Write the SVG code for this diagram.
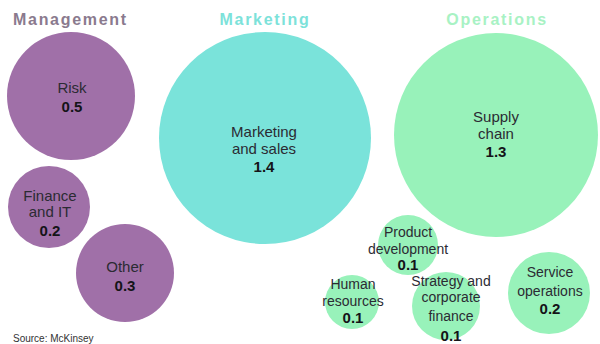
<svg xmlns="http://www.w3.org/2000/svg" width="600" height="344" viewBox="0 0 600 344">
<style>
.bg{fill:#ffffff}
.mg{fill:#a070a8}
.mk{fill:#7ae3da}
.op{fill:#98f2ba}
.hd{font-family:"Liberation Sans",Arial,sans-serif;font-weight:bold;font-size:16px;letter-spacing:1.7px}
.lb{font-family:"Liberation Sans",Arial,sans-serif;font-size:15px;fill:#2b2b33;text-anchor:middle}
.lbs{font-family:"Liberation Sans",Arial,sans-serif;font-size:14px;fill:#2b2b33;text-anchor:middle}
.nm{font-family:"Liberation Sans",Arial,sans-serif;font-size:15px;font-weight:bold;fill:#141418;text-anchor:middle}
.src{font-family:"Liberation Sans",Arial,sans-serif;font-size:10px;fill:#333}
</style>
<rect class="bg" x="0" y="0" width="600" height="344"/>
<g id="headers">
<text class="hd" x="13" y="25" fill="#8a7a8e">Management</text>
<text class="hd" x="265" y="25" fill="#7de2da" text-anchor="middle">Marketing</text>
<text class="hd" x="497" y="25" fill="#a8f2c4" text-anchor="middle">Operations</text>
</g>
<g id="connectors"></g>
<g id="risk">
<circle class="mg" cx="71" cy="96" r="64"/>
<text class="lb" x="72" y="93">Risk</text>
<text class="nm" x="72" y="112">0.5</text>
</g>
<g id="finance-it">
<circle class="mg" cx="49" cy="207" r="41"/>
<text class="lb" x="50" y="201">Finance</text>
<text class="lb" x="50" y="217">and IT</text>
<text class="nm" x="50" y="236">0.2</text>
</g>
<g id="other">
<circle class="mg" cx="125" cy="273" r="49"/>
<text class="lb" x="125" y="272">Other</text>
<text class="nm" x="125" y="291">0.3</text>
</g>
<g id="marketing-sales">
<circle class="mk" cx="265" cy="138" r="106"/>
<text class="lb" x="264" y="137">Marketing</text>
<text class="lb" x="264" y="154">and sales</text>
<text class="nm" x="264" y="172">1.4</text>
</g>
<g id="supply-chain">
<circle class="op" cx="496" cy="135" r="102"/>
<text class="lb" x="496" y="122">Supply</text>
<text class="lb" x="496" y="139">chain</text>
<text class="nm" x="496" y="157">1.3</text>
</g>
<g id="product-development">
<circle class="op" cx="408" cy="245" r="30"/>
<text class="lbs" x="408" y="237">Product</text>
<text class="lbs" x="408" y="254">development</text>
<text class="nm" x="408" y="270">0.1</text>
</g>
<g id="human-resources">
<circle class="op" cx="352" cy="302" r="27"/>
<text class="lbs" x="353" y="289">Human</text>
<text class="lbs" x="353" y="306">resources</text>
<text class="nm" x="353" y="323">0.1</text>
</g>
<g id="strategy-finance">
<circle class="op" cx="446" cy="306" r="34"/>
<text class="lbs" x="451" y="286">Strategy and</text>
<text class="lbs" x="451" y="302">corporate</text>
<text class="lbs" x="451" y="321">finance</text>
<text class="nm" x="451" y="341">0.1</text>
</g>
<g id="service-operations">
<circle class="op" cx="549" cy="293" r="41"/>
<text class="lbs" x="550" y="277">Service</text>
<text class="lbs" x="550" y="296">operations</text>
<text class="nm" x="550" y="314">0.2</text>
</g>
<text class="src" x="13" y="342">Source: McKinsey</text>
</svg>
